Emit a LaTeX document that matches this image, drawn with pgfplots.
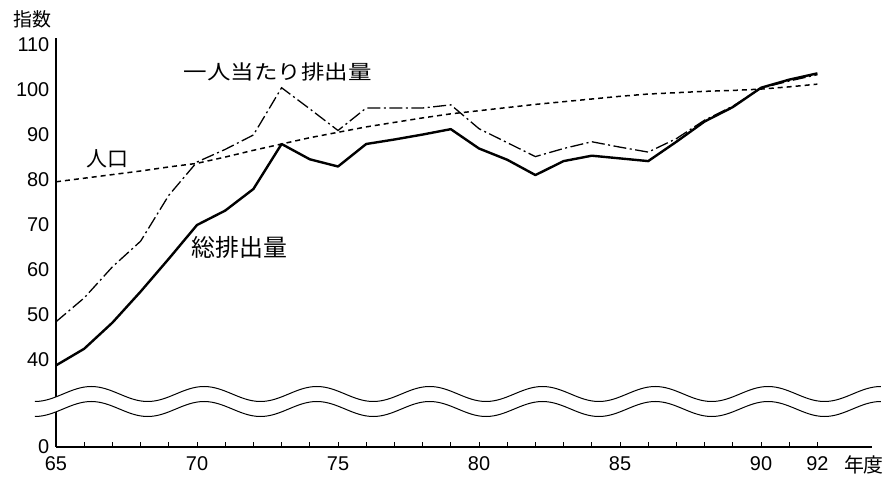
\documentclass[border=0pt]{standalone}
\usepackage{pgfplots}
\pgfplotsset{compat=1.18}
\usepackage{pgfplotstable}
\usepackage{graphicx}
\usepackage{fontspec}
\setmainfont{Liberation Sans}
\newfontfamily\jp{Noto Sans CJK JP}

% index, 1990 = 100
\pgfplotstableread{
year total percap pop
65 38.8 48.5 79.6
66 42.5 53.8 80.4
67 48.3 60.7 81.2
68 55.2 66.4 82.0
69 62.5 76.6 82.9
70 70.0 84.0 83.7
71 73.2 86.8 85.1
72 78.0 90.0 86.6
73 88.0 100.5 88.0
74 84.6 95.8 89.4
75 83.0 91.0 90.6
76 88.0 96.0 91.8
77 89.0 96.0 92.8
78 90.1 96.0 93.8
79 91.3 96.7 94.7
80 87.0 91.4 95.4
81 84.5 88.3 96.1
82 81.1 85.2 96.8
83 84.2 87.0 97.4
84 85.4 88.5 98.0
85 84.8 87.3 98.6
86 84.2 86.2 99.1
87 88.5 89.2 99.4
88 93.0 93.3 99.7
89 96.2 96.4 99.9
90 100.5 100.4 100.2
91 102.3 102.0 100.7
92 103.7 103.4 101.3
}\data

\begin{document}
\begin{tikzpicture}
\path[use as bounding box] (-56bp,-30bp) rectangle (840bp,447bp);
\begin{axis}[
  scale only axis, width=816.4bp, height=409.2bp,
  xmin=65, xmax=93.95, ymin=20.67, ymax=111.6,
  axis x line=bottom, axis y line=left,
  axis line style={-},
  x axis line style={line width=1.1bp},
  y axis line style={line width=2.2bp},
  xtick={65,70,75,80,85,90,92},
  xticklabels={65,70,75,80,85,90,92},
  minor xtick={66,67,...,91},
  tick align=inside,
  major tick length=5bp, minor tick length=5bp,
  xtick style={black, line width=0.7bp},
  ytick={20.67,40,50,60,70,80,90,100,110},
  yticklabels={0,40,50,60,70,80,90,100,110},
  ytick style={draw=none},
  ticklabel style={font=\fontsize{20}{20}\selectfont, inner sep=0.5bp},
  xticklabel style={yshift=-9bp},
  yticklabel style={xshift=-6bp},
  /pgf/number format/assume math mode=true,
  clip=false,
]
\addplot[black, line width=2.4bp, line join=round] table[x=year,y=total]{\data};
\addplot[black, line width=1.3bp, dash pattern=on 13bp off 3.5bp on 2bp off 3.5bp] table[x=year,y=percap]{\data};
\addplot[black, line width=1.5bp, dash pattern=on 5bp off 4bp] table[x=year,y=pop]{\data};

\node[font=\jp\fontsize{20}{20}\selectfont] at (axis cs:72.87,104) {\scalebox{1.18}[1]{一人当たり排出量}};
\node[font=\jp\fontsize{21}{21}\selectfont] at (axis cs:66.83,84.7) {人口};
\node[font=\jp\fontsize{24}{24}\selectfont] at (axis cs:71.51,65.0) {総排出量};
\node[font=\jp\fontsize{19}{19}\selectfont] at (axis cs:64.15,115.6) {指数};
\node[font=\jp\fontsize{20}{20}\selectfont] at (axis cs:93.65,16.8) {年度};
\end{axis}

% axis break: two parallel waves
\fill[white] (-21.15bp,45.5bp)
  \foreach \k in {1,...,7} { cos ++(28.2bp,7.5bp) sin ++(28.2bp,7.5bp) cos ++(28.2bp,-7.5bp) sin ++(28.2bp,-7.5bp) }
  cos ++(28.2bp,7.5bp) sin ++(28.2bp,7.5bp)
  -- ++(0bp,-15bp)
  \foreach \k in {1,...,7} { cos ++(-28.2bp,-7.5bp) sin ++(-28.2bp,-7.5bp) cos ++(-28.2bp,7.5bp) sin ++(-28.2bp,7.5bp) }
  cos ++(-28.2bp,-7.5bp) sin ++(-28.2bp,-7.5bp) -- cycle;
\foreach \yy in {45.5,30.5} {
  \draw[black, line width=1bp] (-21.15bp,\yy bp)
    \foreach \k in {1,...,7} { cos ++(28.2bp,7.5bp) sin ++(28.2bp,7.5bp) cos ++(28.2bp,-7.5bp) sin ++(28.2bp,-7.5bp) }
    cos ++(28.2bp,7.5bp) sin ++(28.2bp,7.5bp);
}
\end{tikzpicture}
\end{document}
